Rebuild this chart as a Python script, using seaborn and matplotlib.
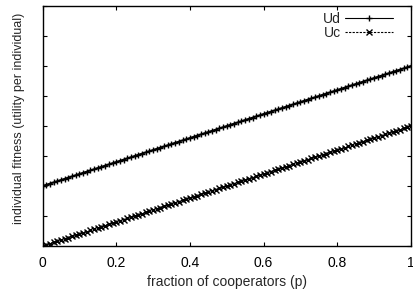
import matplotlib
matplotlib.use("Agg")
import matplotlib.pyplot as plt
import seaborn as sns
import pandas as pd

# fraction of cooperators
p = [0.00, 0.01, 0.02, 0.03, 0.04, 0.05, 0.06, 0.07, 0.08, 0.09,
     0.10, 0.11, 0.12, 0.13, 0.14, 0.15, 0.16, 0.17, 0.18, 0.19,
     0.20, 0.21, 0.22, 0.23, 0.24, 0.25, 0.26, 0.27, 0.28, 0.29,
     0.30, 0.31, 0.32, 0.33, 0.34, 0.35, 0.36, 0.37, 0.38, 0.39,
     0.40, 0.41, 0.42, 0.43, 0.44, 0.45, 0.46, 0.47, 0.48, 0.49,
     0.50, 0.51, 0.52, 0.53, 0.54, 0.55, 0.56, 0.57, 0.58, 0.59,
     0.60, 0.61, 0.62, 0.63, 0.64, 0.65, 0.66, 0.67, 0.68, 0.69,
     0.70, 0.71, 0.72, 0.73, 0.74, 0.75, 0.76, 0.77, 0.78, 0.79,
     0.80, 0.81, 0.82, 0.83, 0.84, 0.85, 0.86, 0.87, 0.88, 0.89,
     0.90, 0.91, 0.92, 0.93, 0.94, 0.95, 0.96, 0.97, 0.98, 0.99,
     1.00]

# defector fitness
ud = [2.00, 2.04, 2.08, 2.12, 2.16, 2.20, 2.24, 2.28, 2.32, 2.36,
      2.40, 2.44, 2.48, 2.52, 2.56, 2.60, 2.64, 2.68, 2.72, 2.76,
      2.80, 2.84, 2.88, 2.92, 2.96, 3.00, 3.04, 3.08, 3.12, 3.16,
      3.20, 3.24, 3.28, 3.32, 3.36, 3.40, 3.44, 3.48, 3.52, 3.56,
      3.60, 3.64, 3.68, 3.72, 3.76, 3.80, 3.84, 3.88, 3.92, 3.96,
      4.00, 4.04, 4.08, 4.12, 4.16, 4.20, 4.24, 4.28, 4.32, 4.36,
      4.40, 4.44, 4.48, 4.52, 4.56, 4.60, 4.64, 4.68, 4.72, 4.76,
      4.80, 4.84, 4.88, 4.92, 4.96, 5.00, 5.04, 5.08, 5.12, 5.16,
      5.20, 5.24, 5.28, 5.32, 5.36, 5.40, 5.44, 5.48, 5.52, 5.56,
      5.60, 5.64, 5.68, 5.72, 5.76, 5.80, 5.84, 5.88, 5.92, 5.96,
      6.00]

# cooperator fitness
uc = [0.00, 0.04, 0.08, 0.12, 0.16, 0.20, 0.24, 0.28, 0.32, 0.36,
      0.40, 0.44, 0.48, 0.52, 0.56, 0.60, 0.64, 0.68, 0.72, 0.76,
      0.80, 0.84, 0.88, 0.92, 0.96, 1.00, 1.04, 1.08, 1.12, 1.16,
      1.20, 1.24, 1.28, 1.32, 1.36, 1.40, 1.44, 1.48, 1.52, 1.56,
      1.60, 1.64, 1.68, 1.72, 1.76, 1.80, 1.84, 1.88, 1.92, 1.96,
      2.00, 2.04, 2.08, 2.12, 2.16, 2.20, 2.24, 2.28, 2.32, 2.36,
      2.40, 2.44, 2.48, 2.52, 2.56, 2.60, 2.64, 2.68, 2.72, 2.76,
      2.80, 2.84, 2.88, 2.92, 2.96, 3.00, 3.04, 3.08, 3.12, 3.16,
      3.20, 3.24, 3.28, 3.32, 3.36, 3.40, 3.44, 3.48, 3.52, 3.56,
      3.60, 3.64, 3.68, 3.72, 3.76, 3.80, 3.84, 3.88, 3.92, 3.96,
      4.00]

x_ticks = [0, 0.2, 0.4, 0.6, 0.8, 1]
x_labels = ["0", "0.2", "0.4", "0.6", "0.8", "1"]
y_ticks = [0, 1, 2, 3, 4, 5, 6, 7, 8]

sns.set_style("ticks")
plt.rcParams["font.family"] = ["Liberation Sans", "DejaVu Sans"]
plt.rcParams["font.size"] = 10

df = pd.DataFrame({"p": p, "Ud": ud, "Uc": uc})

fig = plt.figure(figsize=(4.14, 2.95), dpi=100)
ax = fig.add_axes([0.1027, 0.166, 0.890, 0.8136])

sns.lineplot(data=df, x="p", y="Ud", ax=ax, color="black", linewidth=1.4,
             marker="+", markersize=5, markeredgewidth=1.0,
             markeredgecolor="black", label="Ud")
sns.lineplot(data=df, x="p", y="Uc", ax=ax, color="black", linewidth=1.0,
             linestyle=(0, (2, 1.2)), marker="x", markersize=4.5,
             markeredgewidth=1.0, markeredgecolor="black", label="Uc")

ax.set_xlim(0, 1)
ax.set_ylim(0, 8)
ax.set_xticks(x_ticks)
ax.set_xticklabels(x_labels)
ax.set_yticks(y_ticks)
ax.set_yticklabels([])
ax.tick_params(direction="in", length=3, width=0.8, top=True, right=True,
               labelsize=10, pad=7, colors="black")
for s in ax.spines.values():
    s.set_linewidth(1.0)
    s.set_color("black")

ax.set_xlabel("fraction of cooperators (p)", fontsize=10, labelpad=4)
ax.set_ylabel("individual fitness (utility per individual)", fontsize=9)
ax.yaxis.set_label_coords(-0.0475, 0.533)

leg = ax.legend(loc="upper right", bbox_to_anchor=(0.966, 1.0), frameon=False,
                markerfirst=False, fontsize=10, handlelength=3.46,
                handletextpad=0.3, labelspacing=0.05, borderaxespad=0.0)
for h in leg.legend_handles:
    h.set_linewidth(0.8)
    h.set_markersize(5)

fig.savefig("out.png", dpi=100)
